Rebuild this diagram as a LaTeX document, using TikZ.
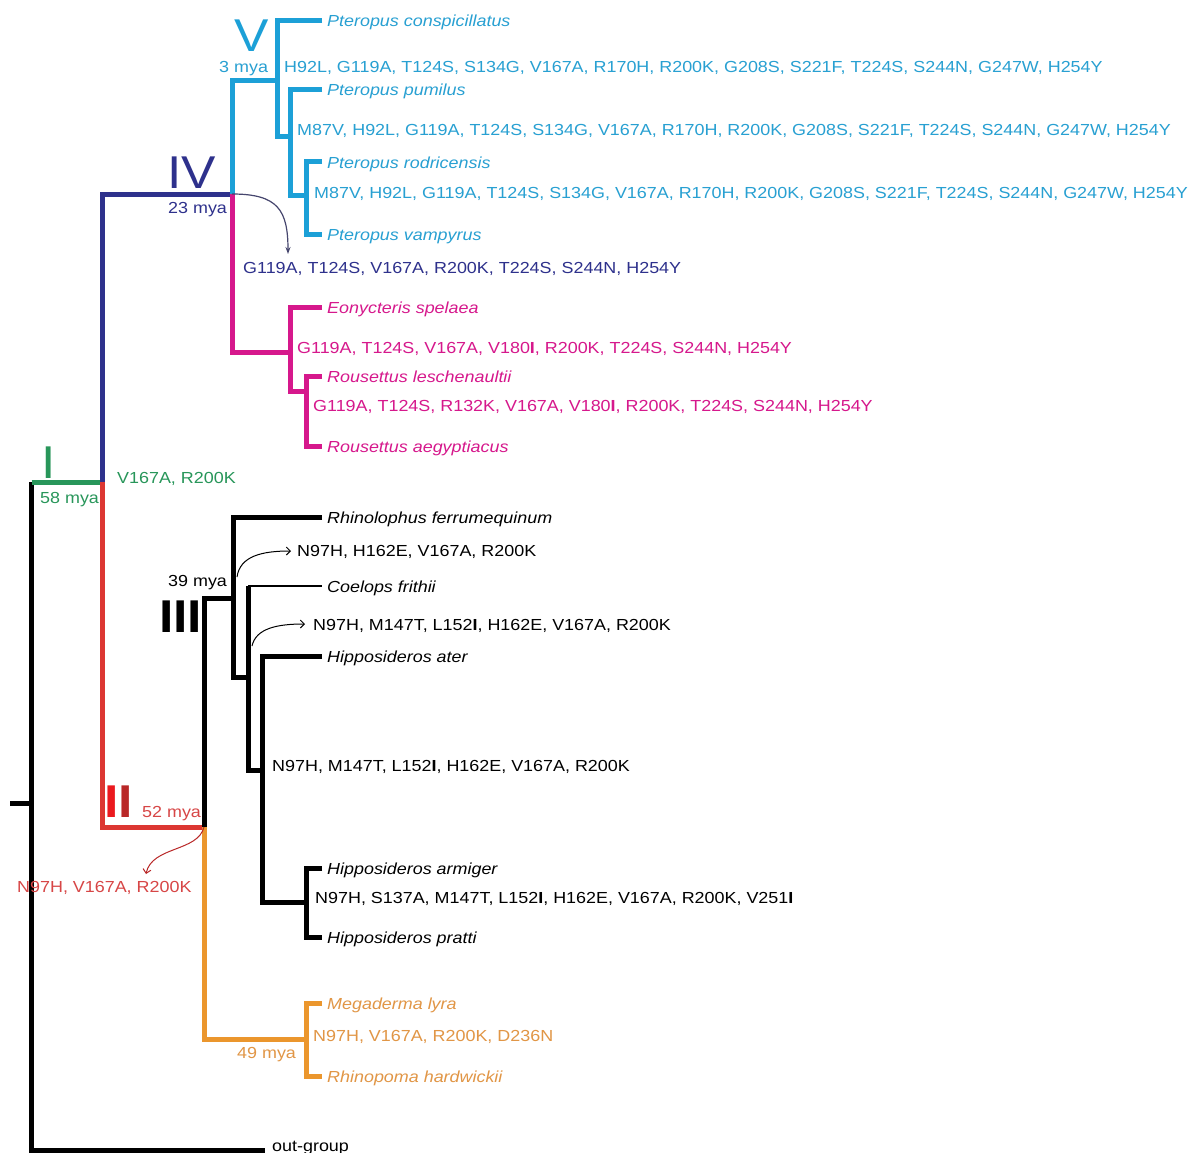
\documentclass[tikz,border=0pt]{standalone}
\usepackage{fontspec}
\setmainfont{Liberation Sans}[FakeStretch=1.12]
\usetikzlibrary{arrows.meta}
\definecolor{cy}{RGB}{28,160,215}
\definecolor{cyt}{RGB}{40,160,210}
\definecolor{nv}{RGB}{46,49,140}
\definecolor{mg}{RGB}{214,24,140}
\definecolor{gr}{RGB}{40,150,90}
\definecolor{rd}{RGB}{220,55,50}
\definecolor{rdt}{RGB}{215,70,70}
\definecolor{rdb}{RGB}{235,25,30}
\definecolor{rdd}{RGB}{185,40,40}
\definecolor{og}{RGB}{235,150,45}
\definecolor{ogt}{RGB}{225,150,70}
\definecolor{ar}{RGB}{70,70,110}
\begin{document}
\begin{tikzpicture}[x=1pt,y=-1pt,
 br/.style={line width=5pt, line join=miter},
 thinline/.style={line width=1.4pt},
 lab/.style={anchor=base west, inner sep=0pt, font=\fontsize{16}{19}\selectfont},
 sp/.style={anchor=base west, inner sep=0pt, font=\fontsize{16}{19}\selectfont\itshape, xshift=5pt, yshift=-6pt},
 num/.style={anchor=base west, inner sep=0pt, font=\fontsize{46}{50}\selectfont},
 navarr/.style={line width=1.2pt, -{Stealth[length=7pt,width=5pt]}},
 openarr/.style={line width=1pt, -{Straight Barb[length=4pt,width=8pt]}}
]
\useasboundingbox (0,0) rectangle (1197,1153);
\fill[white] (0,0) rectangle (1197,1153);

% ---------- coordinates ----------
\coordinate (stub) at (10,803);
\coordinate (root) at (31.5,803);
\coordinate (nI) at (31.5,482);
\coordinate (nG) at (102.5,482);
\coordinate (nGe) at (105,482);
\coordinate (ogtip) at (265,1150);
\coordinate (n4) at (232,194);
\coordinate (n2) at (204,827);
% cyan
\coordinate (c5m) at (277,81);
\coordinate (c5b) at (277,137);
\coordinate (c6b) at (290,137);
\coordinate (c6d) at (290,195);
\coordinate (c7d) at (306,195);
\coordinate (c7e) at (306,234);
\coordinate (t1) at (322,21);
\coordinate (t2) at (322,90);
\coordinate (t3) at (322,162);
\coordinate (t4) at (322,234);
% magenta
\coordinate (m1) at (290,352);
\coordinate (mB) at (290,391);
\coordinate (mC) at (306,391);
\coordinate (mD) at (306,446);
\coordinate (e1) at (322,307);
\coordinate (r1) at (322,376);
\coordinate (r2) at (322,446);
% black III
\coordinate (k1) at (233,598);
\coordinate (k2) at (233,677);
\coordinate (k3) at (248,677);
\coordinate (k4) at (248,586);
\coordinate (k5) at (262,770);
\coordinate (k6) at (262,902);
\coordinate (k7) at (306,902);
\coordinate (k8) at (306,937);
\coordinate (rh) at (322,517);
\coordinate (cf) at (322,586);
\coordinate (ha) at (322,656);
\coordinate (hm) at (322,868);
\coordinate (hp) at (322,937);
% orange
\coordinate (o1) at (306,1039);
\coordinate (o2) at (306,1076);
\coordinate (mt1) at (322,1003);
\coordinate (mt2) at (322,1076);
% arrows
\coordinate (a4e) at (288,254);
\coordinate (a2e) at (146,874);
\coordinate (b1s) at (237,577);
\coordinate (b1e) at (291,551);
\coordinate (b2s) at (252,646);
\coordinate (b2e) at (305,624);

% ---------- branches ----------
\draw[br] (stub) -- (root);
\draw[br] (nI) |- (ogtip);
\draw[br,gr] (nI) -- (nGe);
\draw[br,nv] (nG) |- (n4);
\draw[br,rd] (nG) |- (n2);
\draw[br,cy] (n4) |- (c5m);
\draw[br,mg] (n4) |- (m1);
\draw[br,cy] (t1) -| (c5b) -- (c6b);
\draw[br,cy] (t2) -| (c6d) -- (c7d);
\draw[br,cy] (t3) -| (c7e) -- (t4);
\draw[br,mg] (e1) -| (mB) -- (mC);
\draw[br,mg] (r1) -| (mD) -- (r2);
\draw[br] (n2) |- (k1);
\draw[br,og] (n2) |- (o1);
\draw[br,og] (mt1) -| (o2) -- (mt2);
\draw[br] (rh) -| (k2) -- (k3);
\draw[br] (k4) |- (k5);
\draw[thinline] (k4) -- (cf);
\draw[br] (ha) -| (k6) -- (k7);
\draw[br] (hm) -| (k8) -- (hp);

% ---------- species ----------
\node[sp,cyt] (sp1) at (t1) {Pteropus conspicillatus};
\node[sp,cyt] (sp2) at (t2) {Pteropus pumilus};
\node[sp,cyt] (sp3) at (t3) {Pteropus rodricensis};
\node[sp,cyt] (sp4) at (t4) {Pteropus vampyrus};
\node[sp,mg] (sp5) at (e1) {Eonycteris spelaea};
\node[sp,mg] (sp6) at (r1) {Rousettus leschenaultii};
\node[sp,mg] (sp7) at (r2) {Rousettus aegyptiacus};
\node[sp] (sp8) at (rh) {Rhinolophus ferrumequinum};
\node[sp] (sp9) at (cf) {Coelops frithii};
\node[sp] (sp10) at (ha) {Hipposideros ater};
\node[sp] (sp11) at (hm) {Hipposideros armiger};
\node[sp] (sp12) at (hp) {Hipposideros pratti};
\node[sp,ogt] (sp13) at (mt1) {Megaderma lyra};
\node[sp,ogt] (sp14) at (mt2) {Rhinopoma hardwickii};
\node[lab] (outg) at (272,1151) {out-group};

% ---------- clade numerals and ages ----------
\node[num,cy] (numV) at (234,52) {V};
\node[num,nv] (numIV) at (167,188) {IV};
\node[num,gr] (numI) at (41,478) {I};
\node[num] (numII) at (104,817) {\bfseries\textcolor{rdb}{I}\textcolor{rdd}{I}};
\node[num] (numIII) at (159,632) {\bfseries III};
\node[lab,cyt] (age3) at (219,73) {3 mya};
\node[lab,nv] (age23) at (168,213) {23 mya};
\node[lab,gr] (age58) at (40,503) {58 mya};
\node[lab,rdt] (age52) at (142,817) {52 mya};
\node[lab] (age39) at (168,586) {39 mya};
\node[lab,ogt] (age49) at (237,1058) {49 mya};

% ---------- substitutions ----------
\node[lab,cyt] (mu1) at (284,73) {H92L, G119A, T124S, S134G, V167A, R170H, R200K, G208S, S221F, T224S, S244N, G247W, H254Y};
\node[lab,cyt] (mu2) at (297,136) {M87V, H92L, G119A, T124S, S134G, V167A, R170H, R200K, G208S, S221F, T224S, S244N, G247W, H254Y};
\node[lab,cyt] (mu3) at (314,198) {M87V, H92L, G119A, T124S, S134G, V167A, R170H, R200K, G208S, S221F, T224S, S244N, G247W, H254Y};
\node[lab,nv] (mu4) at (243,273) {G119A, T124S, V167A, R200K, T224S, S244N, H254Y};
\node[lab,mg] (mu5) at (297,353) {G119A, T124S, V167A, V180\textbf{I}, R200K, T224S, S244N, H254Y};
\node[lab,mg] (mu6) at (313,411) {G119A, T124S, R132K, V167A, V180\textbf{I}, R200K, T224S, S244N, H254Y};
\node[lab,gr] (mu7) at (117,483) {V167A, R200K};
\node[lab] (mu8) at (297,556) {N97H, H162E, V167A, R200K};
\node[lab] (mu9) at (313,630) {N97H, M147T, L152\textbf{I}, H162E, V167A, R200K};
\node[lab] (mu10) at (272,771) {N97H, M147T, L152\textbf{I}, H162E, V167A, R200K};
\node[lab] (mu11) at (315,903) {N97H, S137A, M147T, L152\textbf{I}, H162E, V167A, R200K, V251\textbf{I}};
\node[lab,rdt] (mu12) at (17,892) {N97H, V167A, R200K};
\node[lab,ogt] (mu13) at (313,1041) {N97H, V167A, R200K, D236N};

% ---------- arrows ----------
\draw[navarr,ar] (n4) .. controls (278,194) and (288,210) .. (a4e);
\draw[openarr,rdd] (n2) .. controls (198,852) and (152,846) .. (a2e);
\draw[openarr] (b1s) .. controls (240,556) and (262,551) .. (b1e);
\draw[openarr] (b2s) .. controls (256,628) and (278,624) .. (b2e);
\end{tikzpicture}
\end{document}
